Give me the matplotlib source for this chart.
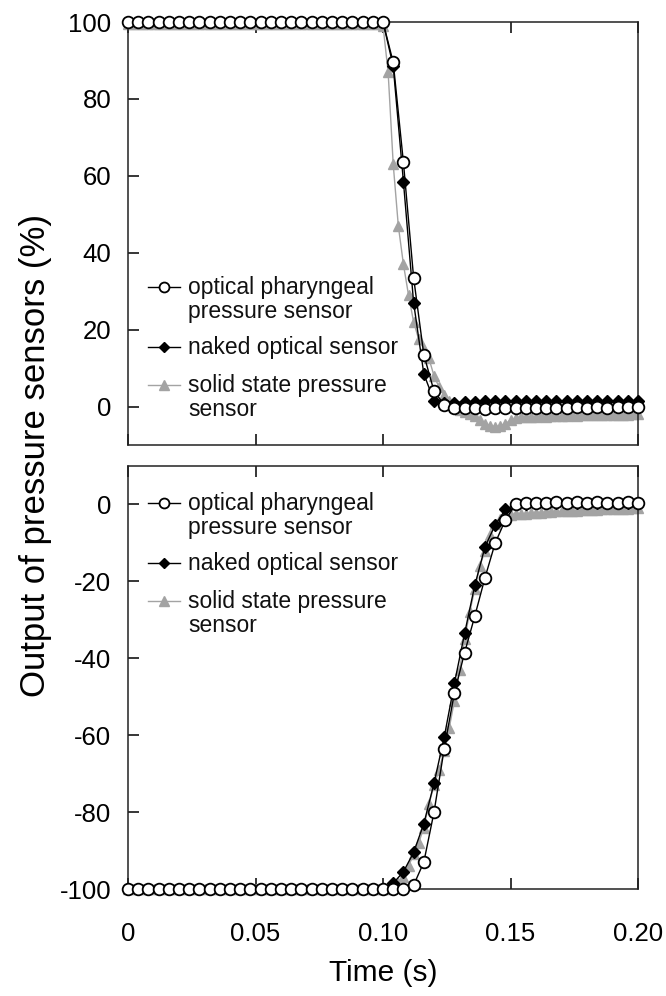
import numpy as np
import matplotlib
matplotlib.use("Agg")
import matplotlib.pyplot as plt

plt.rcParams['font.family'] = ['Liberation Sans', 'DejaVu Sans']
plt.rcParams['axes.unicode_minus'] = False

# ---- data ----
# optical / naked sensors sampled every 4 ms, solid state every 2 ms
t_opt = np.linspace(0, 0.2, 51)
t_ss = np.linspace(0, 0.2, 101)

# top panel (pressure release, 100 -> 0 %)
top_pharyngeal = [100] * 26 + [89.5, 63.5, 33.5, 13.5, 4, 0.5] + \
    [-0.3, -0.5, -0.4, -0.6, -0.5, -0.4, -0.5, -0.3, -0.4, -0.3,
     -0.4, -0.3, -0.2, -0.3, -0.2, -0.3, -0.2, -0.2, -0.2]
top_naked = [100] * 26 + [88.5, 58.5, 27, 8.5, 1.5, 0.8] + \
    [1.0, 1.2, 1.3, 1.4, 1.5, 1.5, 1.4, 1.5, 1.5, 1.4,
     1.5, 1.5, 1.4, 1.5, 1.5, 1.4, 1.5, 1.4, 1.4]
top_solid = [99.5] * 50 + \
    [99, 87, 63, 47, 37, 29, 22, 17.5, 15, 12.5, 8, 5, 3, 1.5, 0,
     -1, -1.5, -2, -2.5, -3.5, -4.5, -5, -5.2, -5, -4.5, -3.5] + \
    [-3, -2.8, -2.8, -2.6, -2.7, -2.5, -2.6, -2.5, -2.4, -2.5,
     -2.4, -2.3, -2.4, -2.3, -2.3, -2.2, -2.3, -2.2, -2.2, -2.1,
     -2.2, -2.1, -2.1, -2.0, -2.0]

# bottom panel (pressure onset, -100 -> 0 %)
bot_pharyngeal = [-100] * 28 + \
    [-99, -93, -80, -63.5, -49, -38.5, -29, -19, -10, -4, 0] + \
    [0.3, 0.5, 0.5, 0.6, 0.5, 0.6, 0.5, 0.6, 0.5, 0.5, 0.6, 0.5]
bot_naked = [-100] * 26 + \
    [-98.5, -95.5, -90.5, -83, -72.5, -60.5, -46.5, -33.5, -21, -11,
     -5.3, -1.3, 0] + \
    [0.2, 0.3, 0.3, 0.4, 0.3, 0.4, 0.3, 0.4, 0.3, 0.3, 0.4, 0.3]
bot_solid = [-100] * 52 + \
    [-99.5, -98.5, -97, -94, -91, -88, -84, -78, -73, -69, -64, -58,
     -51, -43, -35, -28, -22, -16, -12, -8, -5, -3.8, -3.2, -2.8] + \
    [-2.6, -2.5, -2.4, -2.3, -2.2, -2.1, -2.0, -1.9, -1.8, -1.8,
     -1.7, -1.6, -1.6, -1.5, -1.5, -1.4, -1.4, -1.3, -1.3, -1.2,
     -1.2, -1.1, -1.1, -1.0, -1.0]

labels = [["optical pharyngeal", "pressure sensor"],
          ["naked optical sensor"],
          ["solid state pressure", "sensor"]]

GRAY = '#a3a3a3'
styles = [
    dict(marker='o', color='black', mfc='white', mec='black', ms=8.4, mew=1.3, lw=1.0, zorder=4),
    dict(marker='D', color='black', mfc='black', mec='black', ms=5.8, mew=1.0, lw=1.0, zorder=3),
    dict(marker='^', color=GRAY, mfc=GRAY, mec=GRAY, ms=7.8, mew=1.0, lw=1.0, zorder=2),
]


def draw_legend(ax, y_first):
    # hand-made legend so the marker sits on the first line of each label
    x0, x1, xt = 0.039, 0.102, 0.118
    line_gap = 0.057
    ys = [y_first, y_first - 0.142, y_first - 0.232]
    for lab, st, y in zip(labels, styles, ys):
        ax.plot([x0, x1], [y, y], transform=ax.transAxes, color=st['color'],
                lw=st['lw'], clip_on=False, zorder=5)
        ax.plot([(x0 + x1) / 2], [y], transform=ax.transAxes, linestyle='none',
                marker=st['marker'], mfc=st['mfc'], mec=st['mec'],
                ms=st['ms'] * 0.85, mew=st['mew'], clip_on=False, zorder=6)
        for i, line in enumerate(lab):
            ax.text(xt, y - i * line_gap, line, transform=ax.transAxes,
                    fontsize=16.5, va='center', ha='left', color='#111111')


fig = plt.figure(figsize=(6.66, 9.96), dpi=100)
ax_top = fig.add_axes([0.1922, 0.5532, 0.7658, 0.4247])
ax_bot = fig.add_axes([0.1922, 0.1074, 0.7658, 0.4247])

series_top = [(t_opt, top_pharyngeal), (t_opt, top_naked), (t_ss, top_solid)]
series_bot = [(t_opt, bot_pharyngeal), (t_opt, bot_naked), (t_ss, bot_solid)]

for ax, series in [(ax_top, series_top), (ax_bot, series_bot)]:
    # solid state first so it sits underneath
    for (t, v), st in reversed(list(zip(series, styles))):
        ax.plot(t, v, clip_on=False, **st)
    ax.set_xlim(0, 0.2)
    ax.set_xticks([0, 0.05, 0.10, 0.15, 0.20])
    ax.tick_params(axis='x', direction='in', top=True, bottom=True,
                   length=8, width=1.1, labelsize=18.5, pad=24)
    ax.tick_params(axis='y', direction='in', left=True, right=False,
                   length=8, width=1.1, labelsize=18.5, pad=12)
    for sp in ax.spines.values():
        sp.set_linewidth(1.1)
        sp.set_color('#222222')

ax_top.set_ylim(-10, 100)
ax_top.set_yticks([0, 20, 40, 60, 80, 100])
ax_top.tick_params(axis='x', labelbottom=False)

ax_bot.set_ylim(-100, 10)
ax_bot.set_yticks([-100, -80, -60, -40, -20, 0])
ax_bot.set_xticklabels(['0', '0.05', '0.10', '0.15', '0.20'])
ax_bot.set_xlabel('Time (s)', fontsize=21.5, labelpad=9)

draw_legend(ax_top, 0.3735)
draw_legend(ax_bot, 0.9125)

fig.text(36 / 666, 1 - 455 / 996, 'Output of pressure sensors (%)',
         rotation=90, fontsize=25, ha='center', va='center')

fig.savefig('out.png', dpi=100)
